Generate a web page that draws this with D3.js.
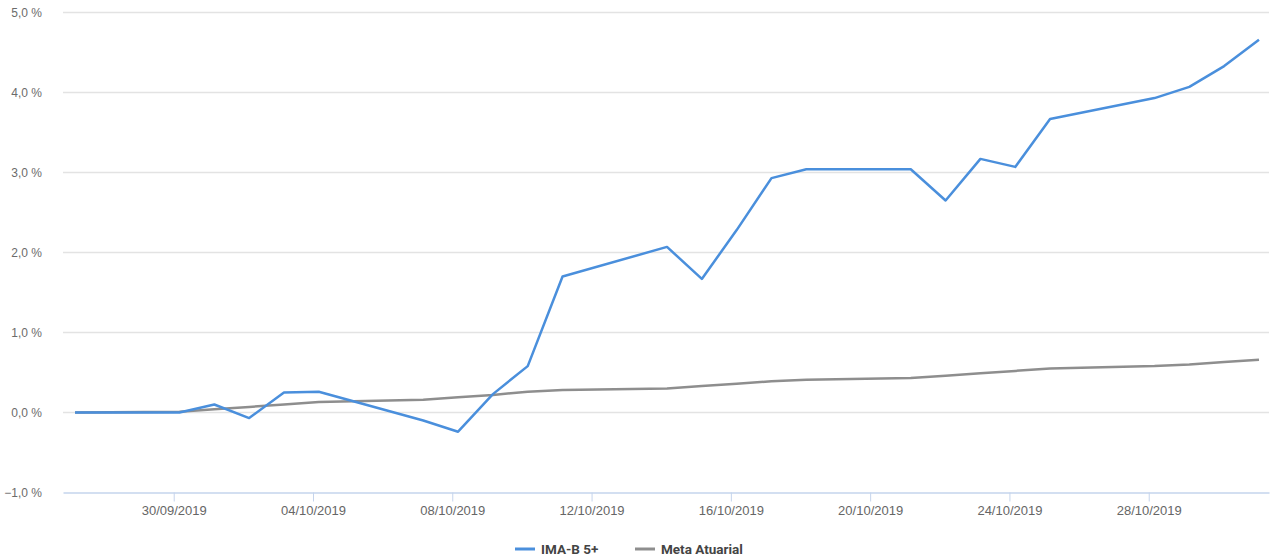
<!DOCTYPE html>
<html>
<head>
<meta charset="utf-8">
<script src="https://cdn.jsdelivr.net/npm/d3@7"></script>
<style>
  body { margin: 0; background: #fff; }
  svg { font-family: Roboto, "Liberation Sans", sans-serif; }
  .grid line { stroke: #e3e3e3; stroke-width: 1.5; }
  .axis-y text { fill: #6b6b6b; font-size: 12px; }
  .axis-x text { fill: #666; font-size: 13px; }
  .legend text { fill: #444; font-size: 13.5px; font-weight: bold; }
</style>
</head>
<body>
<div id="chart"></div>
<script>
// dias úteis do período
var dates = ["2019-09-27","2019-09-30","2019-10-01","2019-10-02","2019-10-03","2019-10-04",
             "2019-10-07","2019-10-08","2019-10-09","2019-10-10","2019-10-11",
             "2019-10-14","2019-10-15","2019-10-16","2019-10-17","2019-10-18",
             "2019-10-21","2019-10-22","2019-10-23","2019-10-24","2019-10-25",
             "2019-10-28","2019-10-29","2019-10-30","2019-10-31"];
var imaB5 = [0.00, 0.00, 0.10, -0.07, 0.25, 0.26,
             -0.10, -0.24, 0.23, 0.58, 1.70,
             2.07, 1.67, 2.28, 2.93, 3.04,
             3.04, 2.65, 3.17, 3.07, 3.67,
             3.93, 4.07, 4.33, 4.66];
var metaAtuarial = [0.00, 0.01, 0.04, 0.07, 0.10, 0.13,
                    0.16, 0.19, 0.22, 0.26, 0.28,
                    0.30, 0.33, 0.36, 0.39, 0.41,
                    0.43, 0.46, 0.49, 0.52, 0.55,
                    0.58, 0.60, 0.63, 0.66];
var yTicks = [-1, 0, 1, 2, 3, 4, 5];
var xTicks = ["2019-09-30","2019-10-04","2019-10-08","2019-10-12","2019-10-16","2019-10-20","2019-10-24","2019-10-28"];
var seriesNames = ["IMA-B 5+", "Meta Atuarial"];
var seriesColors = ["#4a8fdc", "#8e8e8e"];

var width = 1272, height = 560;
var margin = {top: 12, right: 3, bottom: 68, left: 63};

var parse = d3.timeParse("%Y-%m-%d %H:%M");
var parseDay = d3.timeParse("%Y-%m-%d");
// pontos ficam um pouco depois da meia-noite (como no original)
var pts = dates.map(function(d) { return parse(d + " 04:00"); });

var svg = d3.select("#chart").append("svg")
    .attr("width", width)
    .attr("height", height);

var hour = 3600 * 1000;
var x = d3.scaleTime()
    .domain([new Date(pts[0].getTime() - 8.3 * hour), new Date(pts[pts.length - 1].getTime() + 6.9 * hour)])
    .range([margin.left, width - margin.right]);

var y = d3.scaleLinear()
    .domain([-1, 5])
    .range([height - margin.bottom + 0.5, margin.top + 0.5]);

// grid
svg.append("g")
    .attr("class", "grid")
    .selectAll("line")
    .data(yTicks.filter(function(d) { return d !== -1; }))
    .enter().append("line")
    .attr("x1", margin.left)
    .attr("x2", width - margin.right)
    .attr("y1", function(d) { return y(d); })
    .attr("y2", function(d) { return y(d); });

// eixo y
var fmt = d3.format(".1f");
var yAxis = svg.append("g")
    .attr("class", "axis-y")
    .attr("transform", "translate(" + (margin.left - 18) + ",0)")
    .call(d3.axisLeft(y).tickValues(yTicks).tickSize(0)
        .tickFormat(function(d) { return fmt(d).replace(".", ",") + " %"; }));
yAxis.select(".domain").remove();

// eixo x
var xAxis = svg.append("g")
    .attr("class", "axis-x")
    .attr("transform", "translate(0," + y(-1) + ")")
    .call(d3.axisBottom(x)
        .tickValues(xTicks.map(parseDay))
        .tickSize(9)
        .tickSizeOuter(0)
        .tickPadding(4)
        .tickFormat(d3.timeFormat("%d/%m/%Y")));
xAxis.select(".domain").attr("stroke", "#c5d4ec").attr("stroke-width", 1.5);
xAxis.selectAll(".tick line").attr("stroke", "#c5d4ec");

// linhas
var series = [imaB5, metaAtuarial];
var line = d3.line()
    .x(function(d, i) { return x(pts[i]); })
    .y(function(d) { return y(d); });

svg.append("g")
    .selectAll("path")
    .data([1, 0])
    .enter().append("path")
    .attr("fill", "none")
    .attr("stroke", function(k) { return seriesColors[k]; })
    .attr("stroke-width", 2.5)
    .attr("stroke-linejoin", "round")
    .attr("d", function(k) { return line(series[k]); });

// legenda
var legend = svg.append("g")
    .attr("class", "legend")
    .selectAll("g")
    .data(seriesNames)
    .enter().append("g")
    .attr("transform", function(d, i) { return "translate(" + (515 + i * 120) + ",549)"; });

legend.append("line")
    .attr("x1", 0).attr("x2", 20)
    .attr("stroke", function(d, i) { return seriesColors[i]; })
    .attr("stroke-width", 3);

legend.append("text")
    .attr("x", 26)
    .attr("dy", "0.35em")
    .text(function(d) { return d; });
</script>
</body>
</html>
